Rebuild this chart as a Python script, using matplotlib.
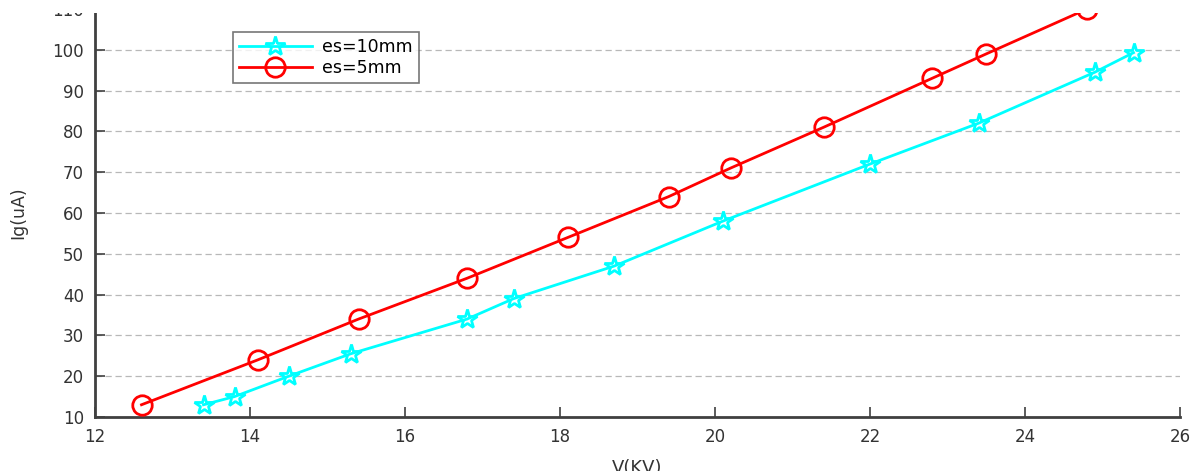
import matplotlib
matplotlib.use("Agg")
import matplotlib.pyplot as plt
from matplotlib.patches import Rectangle

plt.rcParams['font.family'] = ['DejaVu Sans']

v_10mm = [13.4, 13.8, 14.5, 15.3, 16.8, 17.4, 18.7, 20.1, 22.0, 23.4, 24.9, 25.4]
ig_10mm = [13, 15, 20, 25.5, 34, 39, 47, 58, 72, 82, 94.5, 99.3]
v_5mm = [12.6, 14.1, 15.4, 16.8, 18.1, 19.4, 20.2, 21.4, 22.8, 23.5, 24.8]
ig_5mm = [13, 24, 34, 44, 54, 64, 71, 81, 93, 99, 110]

xticks = [12, 14, 16, 18, 20, 22, 24, 26]
yticks = [10, 20, 30, 40, 50, 60, 70, 80, 90, 100, 110]

fig = plt.figure(figsize=(12.02, 4.71), dpi=100)
ax = fig.add_axes([95/1202, 1 - 417/471, 1085/1202, 408/471])

ax.plot(v_10mm, ig_10mm, color='#00FFFF', lw=2, marker='*', ms=15,
        mfc='none', mew=2, label='es=10mm', clip_on=False, zorder=3)
ax.plot(v_5mm, ig_5mm, color='#FF0000', lw=2, marker='o', ms=14,
        mfc='none', mew=2, label='es=5mm', clip_on=False, zorder=3)

ax.set_xlim(12, 26)
ax.set_ylim(10, 110)
ax.set_xticks(xticks)
ax.set_yticks(yticks)
ax.yaxis.grid(True, linestyle=(0, (5, 3)), color='#b8b8b8', lw=0.9)
ax.set_axisbelow(True)
for s in ['top', 'right']:
    ax.spines[s].set_visible(False)
for s in ['left', 'bottom']:
    ax.spines[s].set_linewidth(2)
    ax.spines[s].set_color('#404040')
ax.tick_params(direction='in', length=7, width=1.2, color='#404040',
               labelsize=12, labelcolor='#333333', pad=8)

ax.set_xlabel('V(KV)', fontsize=13, color='#333333', labelpad=9)
ax.set_ylabel('Ig(uA)', fontsize=12.5, color='#333333', labelpad=18)

leg = ax.legend(loc='upper left', bbox_to_anchor=(0.127, 0.944), fontsize=12.5,
                frameon=True, fancybox=False, handlelength=4.2, borderpad=0.35,
                labelspacing=0.2, handletextpad=0.6, borderaxespad=0)
leg.get_frame().set_edgecolor('#555555')
leg.get_frame().set_linewidth(1.2)

# the reference image is blanked out above its top edge
fig.patches.append(Rectangle((0, 1 - 13/471), 1, 13/471, transform=fig.transFigure,
                             facecolor='white', edgecolor='none', zorder=100))

fig.savefig('out.png', dpi=100)
